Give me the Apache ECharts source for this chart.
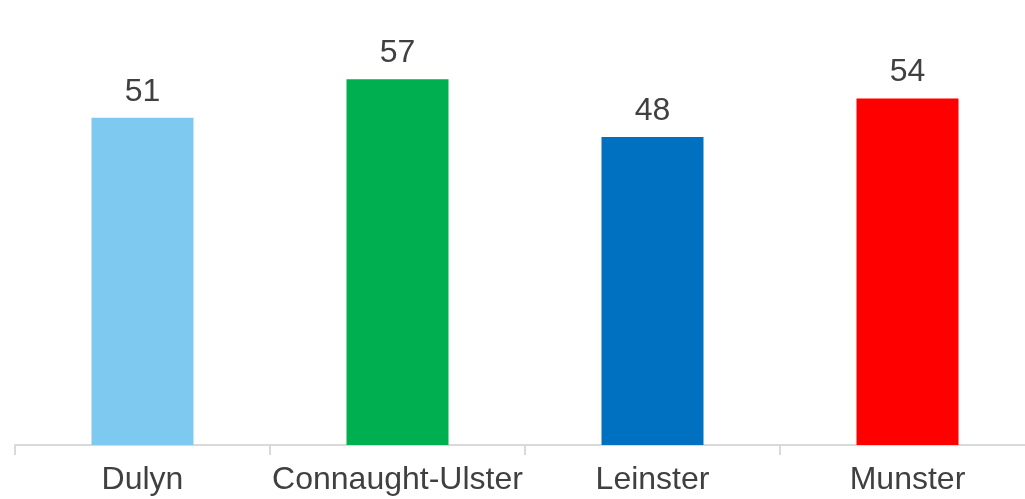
<!DOCTYPE html>
<html>
<head>
<meta charset="utf-8">
<script src="https://cdn.jsdelivr.net/npm/echarts@6/dist/echarts.min.js"></script>
<style>
html,body{margin:0;padding:0;background:#fff;overflow:hidden;width:1025px;height:499px;}
#chart{width:1035px;height:499px;}
</style>
</head>
<body>
<div id="chart"></div>
<script>
const categories = ["Dulyn", "Connaught-Ulster", "Leinster", "Munster"];
const values = [51, 57, 48, 54];
const colors = ["#7DC9EF", "#00B050", "#0070C0", "#FF0000"];

const chart = echarts.init(document.getElementById('chart'), null, {renderer: 'canvas'});
chart.setOption({
  animation: false,
  grid: {left: 15, right: 0, top: 60, bottom: 54, containLabel: false},
  xAxis: {
    type: 'category',
    data: categories,
    axisLine: {lineStyle: {color: '#D9D9D9', width: 2}},
    axisTick: {show: true, length: 10, lineStyle: {color: '#D9D9D9', width: 2}},
    axisLabel: {color: '#404040', fontSize: 32, fontFamily: 'Liberation Sans, Arial, sans-serif', margin: 19, interval: 0}
  },
  yAxis: {
    type: 'value',
    min: 0,
    max: 60,
    show: false,
    splitLine: {show: false}
  },
  series: [{
    type: 'bar',
    barWidth: 102,
    data: values.map((v, i) => ({value: v, itemStyle: {color: colors[i]}})),
    label: {
      show: true,
      position: 'top',
      distance: 10,
      color: '#404040',
      fontSize: 32,
      fontFamily: 'Liberation Sans, Arial, sans-serif'
    }
  }]
});
</script>
</body>
</html>
